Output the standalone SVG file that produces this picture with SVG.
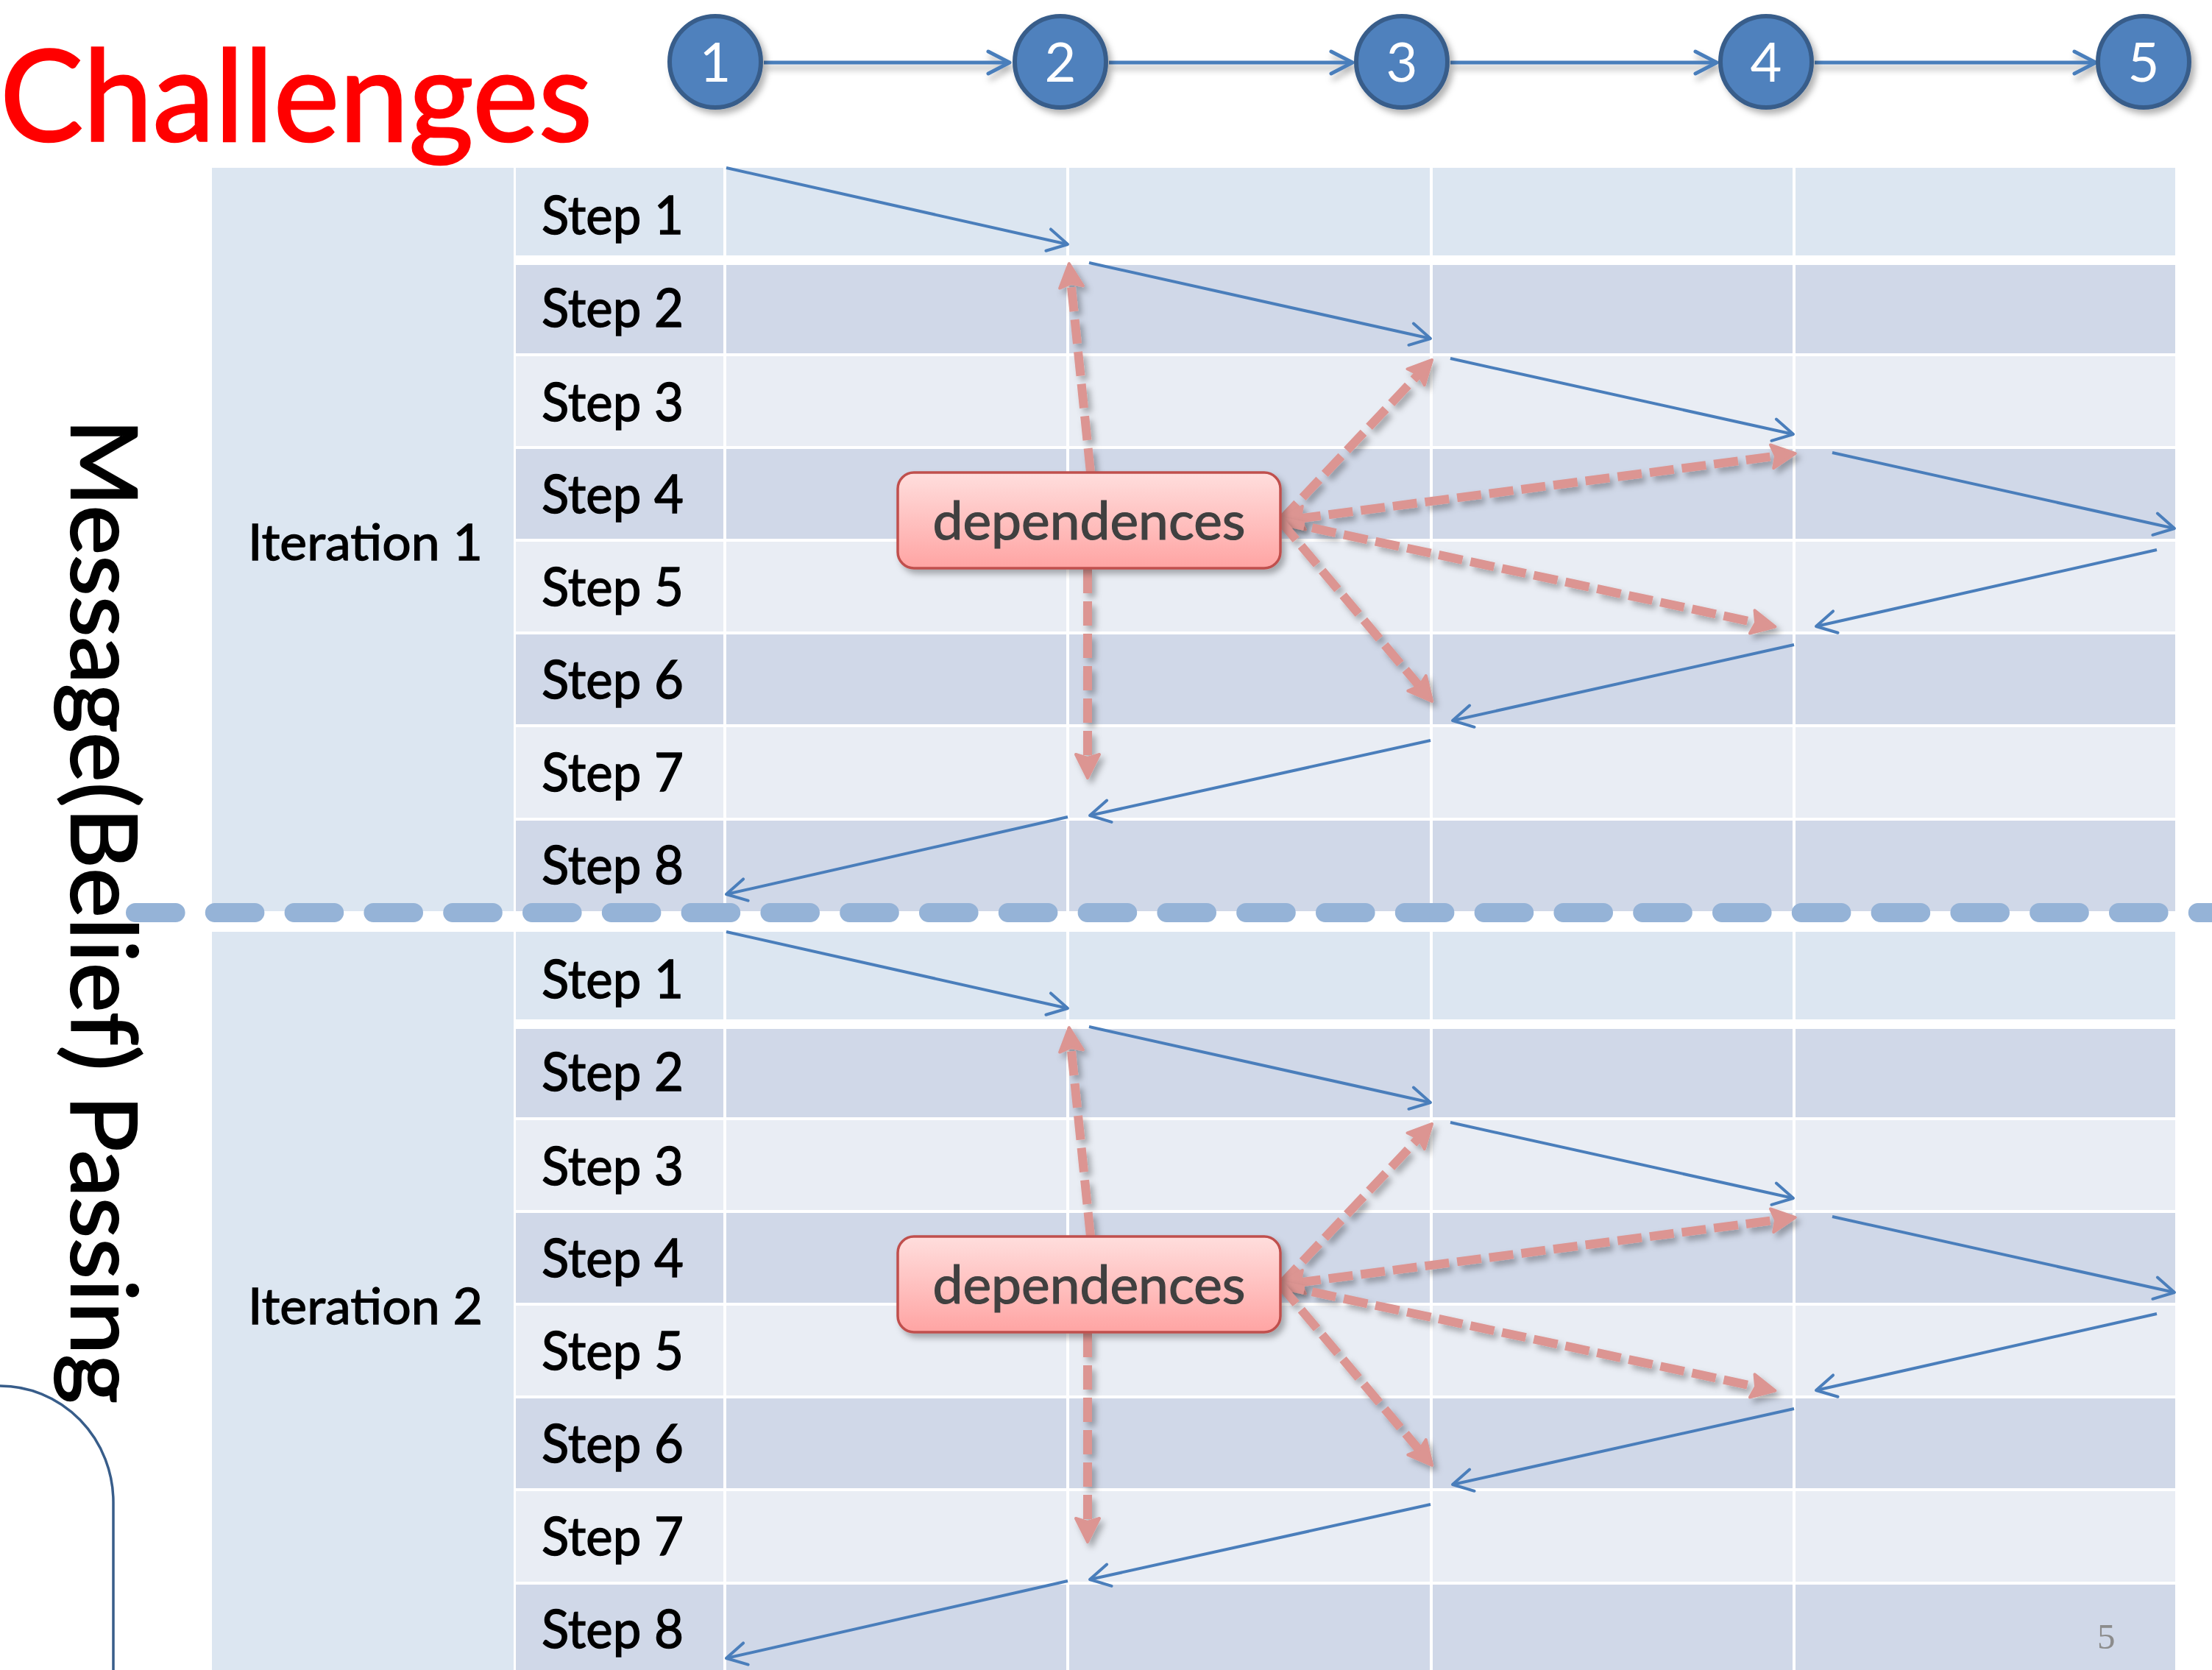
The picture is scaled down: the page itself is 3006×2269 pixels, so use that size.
<svg xmlns="http://www.w3.org/2000/svg" width="3006" height="2269" viewBox="0 0 3006 2269">
<defs>
<style>
.step{font-family:Lato,"Liberation Sans",sans-serif;font-size:72px;fill:#000;stroke:#000;stroke-width:1.4}
.iter{font-family:Lato,"Liberation Sans",sans-serif;font-size:68px;fill:#000;stroke:#000;stroke-width:1.3}
.num{font-family:Lato,"Liberation Sans",sans-serif;font-size:74px;fill:#fff;text-anchor:middle}
.dep{font-family:Lato,"Liberation Sans",sans-serif;font-size:72px;fill:#404040;stroke:#404040;stroke-width:1.2;text-anchor:middle}
.itc{fill:#dce6f1}
.r1{fill:#dce6f1}
.rd{fill:#d0d8e8}
.rl{fill:#e9edf4}
.vl{fill:#ffffff}
.blue{stroke:#4a7ebb;stroke-width:4;fill:none;marker-end:url(#openArrow)}
.pink{stroke:#dc9592;stroke-width:12;fill:none;stroke-dasharray:33 11;marker-end:url(#pinkHead);filter:url(#sh2)}
.circ{fill:#4f81bd;stroke:#385d8a;stroke-width:6;filter:url(#sh)}
.chain{stroke:#4a7ebb;stroke-width:5;fill:none;marker-end:url(#openArrowC);filter:url(#shl)}
.box{fill:url(#boxGrad);stroke:#c0504d;stroke-width:3.5;filter:url(#sh)}
</style>
<linearGradient id="boxGrad" x1="0" y1="0" x2="0" y2="1">
<stop offset="0" stop-color="#ffdedd"/>
<stop offset="1" stop-color="#ffa4a3"/>
</linearGradient>
<filter id="sh" x="-20%" y="-20%" width="140%" height="140%">
<feDropShadow dx="5" dy="6" stdDeviation="4" flood-color="#000" flood-opacity="0.3"/>
</filter>
<filter id="sh2" filterUnits="userSpaceOnUse" x="0" y="0" width="3006" height="2269">
<feDropShadow dx="5" dy="6" stdDeviation="4" flood-color="#000" flood-opacity="0.3"/>
</filter>
<filter id="shl" filterUnits="userSpaceOnUse" x="0" y="0" width="3006" height="300">
<feDropShadow dx="3" dy="7" stdDeviation="4" flood-color="#000" flood-opacity="0.3"/>
</filter>
<marker id="openArrow" markerUnits="userSpaceOnUse" markerWidth="80" markerHeight="80" viewBox="-40 -40 80 80" refX="0" refY="0" orient="auto" overflow="visible">
<path d="M-27,-15 L0,0 L-27,15" fill="none" stroke="#4a7ebb" stroke-width="4" stroke-linecap="round" stroke-linejoin="round"/>
</marker>
<marker id="openArrowC" markerUnits="userSpaceOnUse" markerWidth="80" markerHeight="80" viewBox="-40 -40 80 80" refX="0" refY="0" orient="auto" overflow="visible">
<path d="M-29,-15 L0,0 L-29,15" fill="none" stroke="#4a7ebb" stroke-width="5" stroke-linecap="round" stroke-linejoin="round"/>
</marker>
<marker id="pinkHead" markerUnits="userSpaceOnUse" markerWidth="80" markerHeight="80" viewBox="-40 -40 80 80" refX="0" refY="0" orient="auto-start-reverse" overflow="visible">
<path d="M22,0 L-10,-16 L-5,0 L-10,16 Z" fill="#dc9592" stroke="#dc9592" stroke-width="4" stroke-linejoin="round"/>
</marker>
</defs>

<rect x="0" y="0" width="3006" height="2269" fill="#ffffff"/>

<text x="0" y="192" font-family="Lato,'Liberation Sans',sans-serif" font-size="172" fill="#ff0000" stroke="#ff0000" stroke-width="2.5" textLength="805" lengthAdjust="spacingAndGlyphs">Challenges</text>

<text transform="translate(97,569) rotate(90)" font-family="Lato,'Liberation Sans',sans-serif" font-size="125" fill="#000" stroke="#000" stroke-width="2.2" textLength="1338" lengthAdjust="spacingAndGlyphs">Message(Belief) Passing</text>

<path d="M0,1883 A154,158 0 0 1 154,2041 L154,2269" fill="none" stroke="#385d8a" stroke-width="3.5"/>

<g id="table">
<g id="iteration1">
<rect class="itc" x="288" y="228" width="410" height="1010"/>
<rect class="r1" x="701" y="228" width="2255" height="119"/>
<rect class="rd" x="701" y="360" width="2255" height="120"/>
<rect class="rl" x="701" y="484" width="2255" height="122"/>
<rect class="rd" x="701" y="610" width="2255" height="122"/>
<rect class="rl" x="701" y="736" width="2255" height="122"/>
<rect class="rd" x="701" y="862" width="2255" height="122"/>
<rect class="rl" x="701" y="988" width="2255" height="123"/>
<rect class="rd" x="701" y="1115" width="2255" height="123"/>
<rect class="vl" x="983" y="228" width="4" height="1010"/>
<rect class="vl" x="1449" y="228" width="4" height="1010"/>
<rect class="vl" x="1943" y="228" width="4" height="1010"/>
<rect class="vl" x="2436" y="228" width="4" height="1010"/>
<text class="iter" x="337" y="761" textLength="319" lengthAdjust="spacingAndGlyphs">Iteration 1</text>
<text class="step" x="736" y="318" textLength="193" lengthAdjust="spacingAndGlyphs">Step 1</text>
<text class="step" x="736" y="444" textLength="193" lengthAdjust="spacingAndGlyphs">Step 2</text>
<text class="step" x="736" y="572" textLength="193" lengthAdjust="spacingAndGlyphs">Step 3</text>
<text class="step" x="736" y="697" textLength="193" lengthAdjust="spacingAndGlyphs">Step 4</text>
<text class="step" x="736" y="823" textLength="193" lengthAdjust="spacingAndGlyphs">Step 5</text>
<text class="step" x="736" y="949" textLength="193" lengthAdjust="spacingAndGlyphs">Step 6</text>
<text class="step" x="736" y="1075" textLength="193" lengthAdjust="spacingAndGlyphs">Step 7</text>
<text class="step" x="736" y="1201" textLength="193" lengthAdjust="spacingAndGlyphs">Step 8</text>
</g>
<g id="iteration2" transform="translate(0,1038)">
<rect class="itc" x="288" y="228" width="410" height="1010"/>
<rect class="r1" x="701" y="228" width="2255" height="119"/>
<rect class="rd" x="701" y="360" width="2255" height="120"/>
<rect class="rl" x="701" y="484" width="2255" height="122"/>
<rect class="rd" x="701" y="610" width="2255" height="122"/>
<rect class="rl" x="701" y="736" width="2255" height="122"/>
<rect class="rd" x="701" y="862" width="2255" height="122"/>
<rect class="rl" x="701" y="988" width="2255" height="123"/>
<rect class="rd" x="701" y="1115" width="2255" height="123"/>
<rect class="vl" x="983" y="228" width="4" height="1010"/>
<rect class="vl" x="1449" y="228" width="4" height="1010"/>
<rect class="vl" x="1943" y="228" width="4" height="1010"/>
<rect class="vl" x="2436" y="228" width="4" height="1010"/>
<text class="iter" x="337" y="761" textLength="319" lengthAdjust="spacingAndGlyphs">Iteration 2</text>
<text class="step" x="736" y="318" textLength="193" lengthAdjust="spacingAndGlyphs">Step 1</text>
<text class="step" x="736" y="444" textLength="193" lengthAdjust="spacingAndGlyphs">Step 2</text>
<text class="step" x="736" y="572" textLength="193" lengthAdjust="spacingAndGlyphs">Step 3</text>
<text class="step" x="736" y="697" textLength="193" lengthAdjust="spacingAndGlyphs">Step 4</text>
<text class="step" x="736" y="823" textLength="193" lengthAdjust="spacingAndGlyphs">Step 5</text>
<text class="step" x="736" y="949" textLength="193" lengthAdjust="spacingAndGlyphs">Step 6</text>
<text class="step" x="736" y="1075" textLength="193" lengthAdjust="spacingAndGlyphs">Step 7</text>
<text class="step" x="736" y="1201" textLength="193" lengthAdjust="spacingAndGlyphs">Step 8</text>
</g>
</g>

<line x1="184" y1="1240" x2="3030" y2="1240" stroke="#95b3d7" stroke-width="26" stroke-linecap="round" stroke-dasharray="54.6 53.2"/>

<g id="connectors">
<g id="chain">
<line class="chain" x1="1038" y1="85" x2="1372" y2="85"/>
<line class="chain" x1="1507" y1="85" x2="1838" y2="85"/>
<line class="chain" x1="1971" y1="85" x2="2333" y2="85"/>
<line class="chain" x1="2466" y1="85" x2="2848" y2="85"/>
</g>
<g id="messages1">
<line class="blue" x1="987" y1="228" x2="1451" y2="332"/>
<line class="blue" x1="1480" y1="357" x2="1944" y2="460"/>
<line class="blue" x1="1971" y1="487" x2="2437" y2="590"/>
<line class="blue" x1="2490" y1="615" x2="2955" y2="718"/>
<line class="blue" x1="2931" y1="747" x2="2468" y2="851"/>
<line class="blue" x1="2438" y1="876" x2="1974" y2="979"/>
<line class="blue" x1="1944" y1="1006" x2="1481" y2="1108"/>
<line class="blue" x1="1451" y1="1110" x2="987" y2="1215"/>
</g>
<g id="messages2" transform="translate(0,1038)">
<line class="blue" x1="987" y1="228" x2="1451" y2="332"/>
<line class="blue" x1="1480" y1="357" x2="1944" y2="460"/>
<line class="blue" x1="1971" y1="487" x2="2437" y2="590"/>
<line class="blue" x1="2490" y1="615" x2="2955" y2="718"/>
<line class="blue" x1="2931" y1="747" x2="2468" y2="851"/>
<line class="blue" x1="2438" y1="876" x2="1974" y2="979"/>
<line class="blue" x1="1944" y1="1006" x2="1481" y2="1108"/>
<line class="blue" x1="1451" y1="1110" x2="987" y2="1215"/>
</g>
<g id="deps1">
<line class="pink" x1="1482" y1="642" x2="1455" y2="380"/>
<line class="pink" x1="1478" y1="773" x2="1478" y2="1035"/>
<line class="pink" x1="1740" y1="708" x2="1931" y2="505"/>
<line class="pink" x1="1762" y1="705" x2="2418" y2="619" marker-start="url(#pinkHead)"/>
<line class="pink" x1="1740" y1="708" x2="2391" y2="847"/>
<line class="pink" x1="1740" y1="708" x2="1932" y2="936"/>
</g>
<g id="deps2" transform="translate(0,1038)">
<line class="pink" x1="1482" y1="642" x2="1455" y2="380"/>
<line class="pink" x1="1478" y1="773" x2="1478" y2="1035"/>
<line class="pink" x1="1740" y1="708" x2="1931" y2="505"/>
<line class="pink" x1="1762" y1="705" x2="2418" y2="619" marker-start="url(#pinkHead)"/>
<line class="pink" x1="1740" y1="708" x2="2391" y2="847"/>
<line class="pink" x1="1740" y1="708" x2="1932" y2="936"/>
</g>
</g>

<g id="n1"><circle class="circ" cx="972" cy="84" r="62"/><text class="num" x="972" y="111">1</text></g>
<g id="n2"><circle class="circ" cx="1441" cy="84" r="62"/><text class="num" x="1441" y="111">2</text></g>
<g id="n3"><circle class="circ" cx="1905" cy="84" r="62"/><text class="num" x="1905" y="111">3</text></g>
<g id="n4"><circle class="circ" cx="2400" cy="84" r="62"/><text class="num" x="2400" y="111">4</text></g>
<g id="n5"><circle class="circ" cx="2913" cy="84" r="62"/><text class="num" x="2913" y="111">5</text></g>

<g id="dep1"><rect class="box" x="1220" y="642" width="520" height="130" rx="22"/><text class="dep" x="1480" y="733" textLength="425" lengthAdjust="spacingAndGlyphs">dependences</text></g>
<g id="dep2"><rect class="box" x="1220" y="1680" width="520" height="130" rx="22"/><text class="dep" x="1480" y="1771" textLength="425" lengthAdjust="spacingAndGlyphs">dependences</text></g>

<text x="2850" y="2240" font-family="'Liberation Serif',serif" font-size="49" fill="#8c8c8c">5</text>
</svg>
